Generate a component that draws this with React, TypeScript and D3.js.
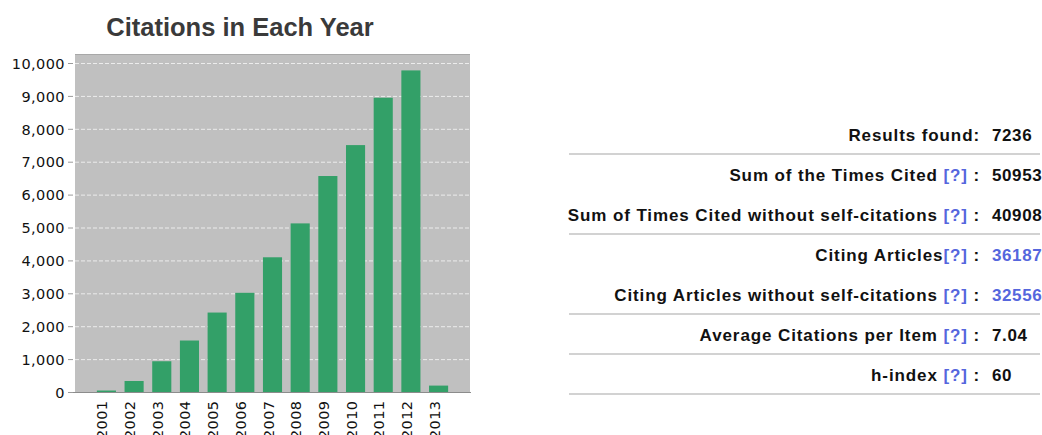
import React from 'react';
import * as d3 from 'd3';

// citations per year
const years = ['2001', '2002', '2003', '2004', '2005', '2006', '2007', '2008', '2009', '2010', '2011', '2012', '2013'];
const citations = [60, 350, 950, 1580, 2430, 3030, 4110, 5140, 6580, 7520, 8960, 9790, 210];
const yTicks = [0, 1000, 2000, 3000, 4000, 5000, 6000, 7000, 8000, 9000, 10000];

// summary table on the right
const statLabels = [
    'Results found:',
    'Sum of the Times Cited',
    'Sum of Times Cited without self-citations',
    'Citing Articles',
    'Citing Articles without self-citations',
    'Average Citations per Item',
    'h-index',
];
const statValues = ['7236', '50953', '40908', '36187', '32556', '7.04', '60'];
const statHelp = [false, true, true, true, true, true, true];
const statHelpGap = [false, true, true, false, true, true, true];
const statLinked = [false, false, false, true, true, false, false];
const statRuleAfter = [true, false, true, false, true, true, true];

const W = 1042, H = 435;
const plot = {left: 75, right: 470, top: 54, bottom: 392.5};
const BOLD = '"Liberation Sans", Arial, sans-serif';
const AXIS = '"DejaVu Sans", Verdana, sans-serif';
const LINK = '#5566dd';

export default function App() {
    const x = d3.scaleBand<string>()
        .domain(years)
        .range([plot.left, plot.right])
        .paddingInner(0.31)
        .paddingOuter(0.79);

    const y = d3.scaleLinear()
        .domain([0, 10000])
        .range([plot.bottom, plot.top + 9.5]);

    const fmt = d3.format(',');

    const row = d3.scaleLinear().domain([0, 1]).range([141, 181]);

    return (
        <svg width={W} height={H} style={{position: 'absolute', left: 0, top: 0}}>
            <rect width={W} height={H} fill="#fff"/>

            <text x={240} y={36} textAnchor="middle" fontFamily={BOLD} fontWeight="bold"
                  fontSize={25.5} fill="#3a3a3a">Citations in Each Year</text>

            <rect x={plot.left} y={plot.top} width={plot.right - plot.left} height={plot.bottom - plot.top}
                  fill="#c0c0c0"/>
            <line x1={plot.left} x2={plot.right} y1={plot.top + 0.5} y2={plot.top + 0.5} stroke="#a8a8a8"/>

            {yTicks.filter(t => t > 0).map(t => (
                <line key={'g' + t} x1={plot.left} x2={plot.right} y1={y(t)} y2={y(t)}
                      stroke="#ececec" strokeDasharray="4,2"/>
            ))}

            {years.map((yr, i) => (
                <rect key={yr} x={x(yr)} y={y(citations[i])} width={x.bandwidth()}
                      height={y(0) - y(citations[i])} fill="#33a068"/>
            ))}

            <line x1={plot.left - 2} x2={plot.right + 1} y1={plot.bottom} y2={plot.bottom} stroke="#8c8c8c"/>

            {yTicks.map(t => (
                <g key={'t' + t}>
                    <line x1={plot.left - 7} x2={plot.left - 2} y1={y(t)} y2={y(t)} stroke="#9a9a9a"/>
                    <text x={plot.left - 10} y={y(t)} dy="0.36em" textAnchor="end" fontFamily={AXIS}
                          fontSize={14.5} letterSpacing={0.4} fill="#111">{fmt(t)}</text>
                </g>
            ))}

            {years.map(yr => {
                const cx = x(yr)! + x.bandwidth() / 2;
                return (
                    <text key={'l' + yr} transform={`translate(${cx + 1},${plot.bottom + 8}) rotate(-90)`}
                          textAnchor="end" fontFamily={AXIS} fontSize={14.5} letterSpacing={0.4}
                          fill="#111">{yr}</text>
                );
            })}

            {statLabels.map((label, i) => {
                const base = row(i);
                return (
                    <g key={label}>
                        <text x={980} y={base} textAnchor="end" fontFamily={BOLD} fontWeight="bold"
                              fontSize={17} letterSpacing={0.9} fill="#111">
                            {label}
                            {statHelp[i] && <tspan fill={LINK}>{statHelpGap[i] ? ' [?]' : '[?]'}</tspan>}
                            {statHelp[i] && <tspan> :</tspan>}
                        </text>
                        <text x={992} y={base} fontFamily={BOLD} fontWeight="bold" fontSize={17}
                              letterSpacing={0.6} fill={statLinked[i] ? LINK : '#111'}>{statValues[i]}</text>
                        {statRuleAfter[i] && (
                            <line x1={569} x2={1040} y1={base + 13} y2={base + 13} stroke="#d2d2d2"
                                  strokeWidth={2}/>
                        )}
                    </g>
                );
            })}
        </svg>
    );
}
